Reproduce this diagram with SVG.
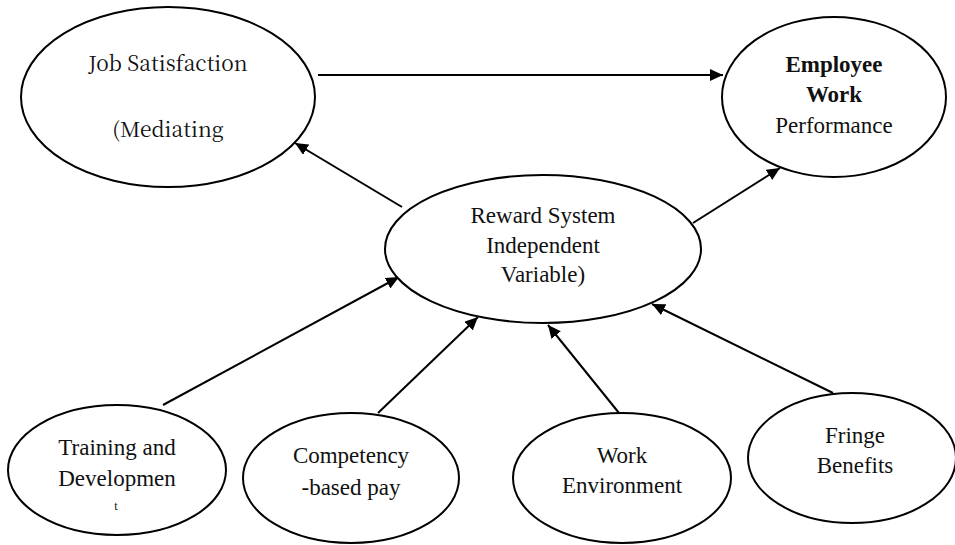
<svg xmlns="http://www.w3.org/2000/svg" width="955" height="545" viewBox="0 0 955 545">
  <style>
    .node ellipse { fill: #ffffff; stroke: #000000; stroke-width: 2; }
    .node text { font-family: 'Liberation Serif', 'Times New Roman', serif; font-size: 23px; fill: #111111; text-anchor: middle; }
    .node text.b { font-weight: bold; }
    .node text.alt { font-family: 'Noto Serif CJK SC', 'Liberation Serif', serif; font-size: 21px; }
    .edges line { stroke: #000000; stroke-width: 2; marker-end: url(#arrow); }
  </style>
  <defs>
    <marker id="arrow" markerUnits="userSpaceOnUse" markerWidth="14" markerHeight="12" refX="13" refY="6" orient="auto">
      <path d="M0,0 L13,6 L0,12 Z" fill="#000000"/>
    </marker>
  </defs>
  <rect width="955" height="545" fill="#ffffff"/>

  <!-- connectors -->
  <g id="edges" class="edges">
    <line x1="318" y1="75" x2="723" y2="75"/>
    <line x1="402" y1="207" x2="295" y2="143"/>
    <line x1="693" y1="223" x2="780" y2="168"/>
    <line x1="163" y1="405" x2="399" y2="277"/>
    <line x1="378" y1="413" x2="478" y2="317"/>
    <line x1="619" y1="413" x2="548" y2="325"/>
    <line x1="833" y1="393" x2="652" y2="304"/>
  </g>

  <!-- nodes -->
  <g id="job-satisfaction" class="node">
    <ellipse cx="168" cy="97" rx="147" ry="90"/>
    <text class="alt" x="168" y="71">Job Satisfaction</text>
    <text class="alt" x="168" y="137">(Mediating</text>
  </g>
  <g id="employee-performance" class="node">
    <ellipse cx="834" cy="97" rx="112" ry="80"/>
    <text class="b" x="834" y="72">Employee</text>
    <text class="b" x="834" y="102">Work</text>
    <text x="834" y="133">Performance</text>
  </g>
  <g id="reward-system" class="node">
    <ellipse cx="543" cy="249" rx="158" ry="74"/>
    <text x="543" y="223">Reward System</text>
    <text x="543" y="253">Independent</text>
    <text x="543" y="282">Variable)</text>
  </g>
  <g id="training" class="node">
    <ellipse cx="117" cy="470" rx="109" ry="65"/>
    <text x="117" y="455">Training and</text>
    <text x="117" y="486">Developmen</text>
    <text x="116" y="510" style="font-size:12px">t</text>
  </g>
  <g id="competency-pay" class="node">
    <ellipse cx="351" cy="478" rx="108" ry="65"/>
    <text x="351" y="463">Competency</text>
    <text x="351" y="495">-based pay</text>
  </g>
  <g id="work-environment" class="node">
    <ellipse cx="622" cy="478" rx="109" ry="65"/>
    <text x="622" y="463">Work</text>
    <text x="622" y="493">Environment</text>
  </g>
  <g id="fringe-benefits" class="node">
    <ellipse cx="852" cy="458" rx="104" ry="65"/>
    <text x="855" y="443">Fringe</text>
    <text x="855" y="473">Benefits</text>
  </g>
</svg>
